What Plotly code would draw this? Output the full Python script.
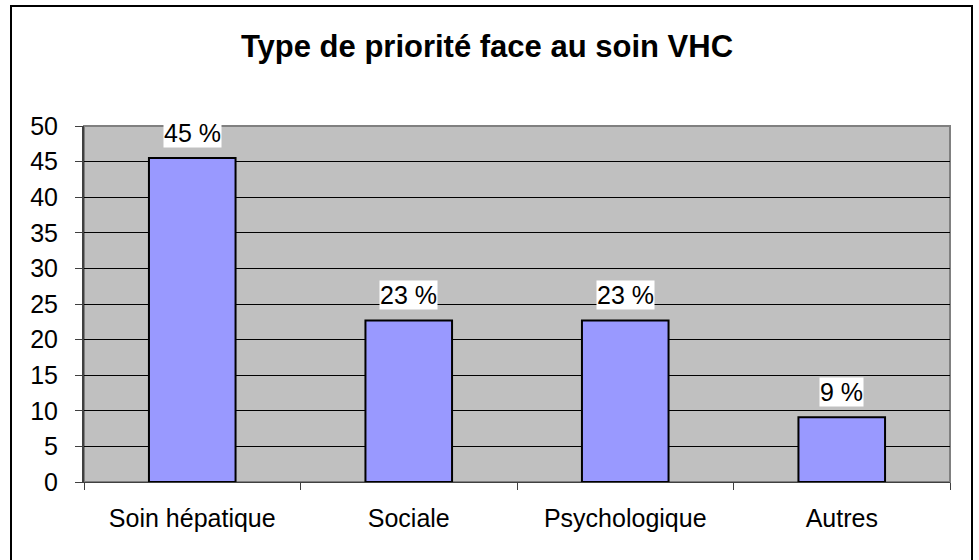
import plotly.graph_objects as go

categories = ["Soin hépatique", "Sociale", "Psychologique", "Autres"]
values = [45.5, 22.7, 22.7, 9.1]
labels = ["45 %", "23 %", "23 %", "9 %"]
y_ticks = list(range(0, 51, 5))

FONT = "Liberation Sans, Arial, sans-serif"
W, H = 979, 560
L, R, T, B = 84, 29, 126, 78
PW, PH = W - L - R, H - T - B

fig = go.Figure()
fig.add_trace(go.Bar(
    x=categories, y=values,
    marker=dict(color="#9999FF", line=dict(color="black", width=2)),
    width=0.4,
    hoverinfo="skip",
))

for c, v, t in zip(categories, values, labels):
    fig.add_annotation(
        x=c, y=v, text=t, showarrow=False, yanchor="bottom", yshift=10,
        bgcolor="white", font=dict(family=FONT, size=25, color="black"),
        borderpad=0,
    )

fig.update_layout(
    width=W, height=H,
    margin=dict(l=L, r=R, t=T, b=B),
    paper_bgcolor="white",
    plot_bgcolor="#C0C0C0",
    showlegend=False,
    title=dict(text="<b>Type de priorité face au soin VHC</b>", x=487/W, xanchor="center",
               y=1 - 46/H, yanchor="middle",
               font=dict(family=FONT, size=31, color="black")),
    font=dict(family=FONT, size=25, color="black"),
)

fig.update_xaxes(
    type="category", tickson="boundaries", ticks="outside", ticklen=7,
    tickcolor="#404040", showline=True, linecolor="#404040", linewidth=1,
    showgrid=False, tickfont=dict(size=25), ticklabelstandoff=14,
)
fig.update_yaxes(
    range=[0, 50], tickvals=y_ticks, ticks="outside", ticklen=7,
    tickcolor="#404040", showline=True, linecolor="#404040", linewidth=2,
    showgrid=True, gridcolor="black", gridwidth=1, zeroline=False,
    tickfont=dict(size=25), ticklabelstandoff=12,
)

# plot area border (top/right grey) and outer frame
fig.add_shape(type="rect", xref="paper", yref="paper", x0=0, x1=1, y0=0, y1=1,
              line=dict(color="#808080", width=2), layer="below")
fig.add_shape(type="rect", xref="paper", yref="paper",
              x0=(11 - L) / PW, x1=(972 - L) / PW,
              y0=-(H + 20 - PH - T) / PH, y1=(T - 6) / PH + 1,
              line=dict(color="black", width=2))

fig.write_html("out.html", config={"displayModeBar": False, "staticPlot": True},
               post_script="document.body.style.margin='0';document.body.style.overflow='hidden';")
